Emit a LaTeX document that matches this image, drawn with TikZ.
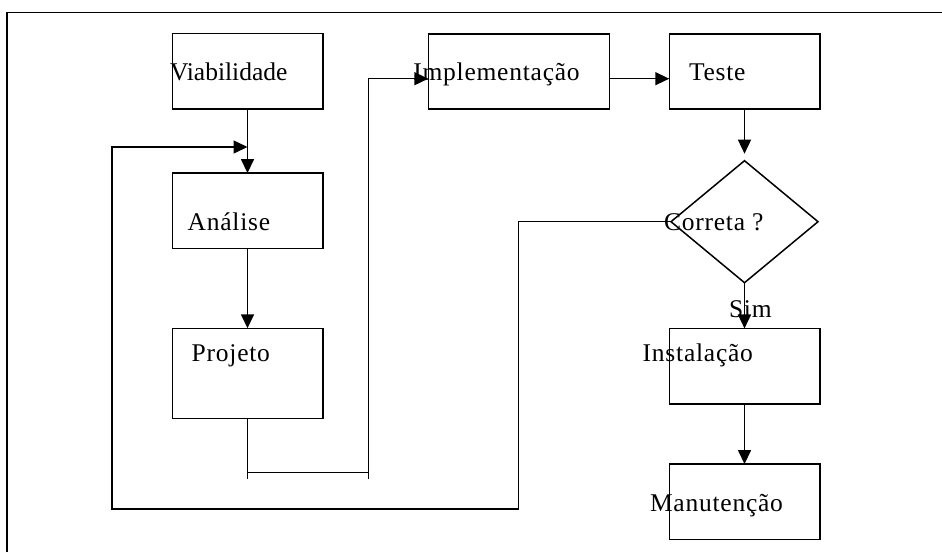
\documentclass[tikz,border=0pt]{standalone}
\usepackage{fontspec}
\setmainfont{Liberation Serif}[LetterSpace=3]
\usetikzlibrary{arrows.meta,shapes.geometric}
\begin{document}
\begin{tikzpicture}[x=1pt,y=-1pt,
  box/.style={draw, line width=1.5pt, minimum width=150.5pt, minimum height=75.5pt, inner sep=0pt, outer sep=0pt},
  txt/.style={anchor=base west, inner sep=0pt, outer sep=0pt, font=\fontsize{25.5}{30}\selectfont},
  conn/.style={line width=1.5pt},
  arr/.style={conn, -{Triangle[length=14pt,width=13pt]}}]
\useasboundingbox (0,0) rectangle (942,552);
\draw[line width=1.6pt] (6.7,552) |- (942,12.3);

% boxes
\node[box] (via) at (247.5,71) {};
\node[box] (ana) at (247.5,210.8) {};
\node[box, minimum height=90.4pt] (proj) at (247.5,373.5) {};
\node[box, minimum width=181pt, minimum height=75pt] (impl) at (518.8,71.5) {};
\node[box, minimum height=75pt] (teste) at (744.5,71.5) {};
\node[draw, diamond, line width=1.5pt, minimum width=147pt, minimum height=122pt, inner sep=0pt, outer sep=0pt] (dia) at (744.5,221.7) {};
\node[box] (inst) at (744.5,366.2) {};
\node[box] (man) at (744.5,501.8) {};

% texts
\node[txt] (tvia) at (170,80.7) {\addfontfeatures{LetterSpace=0}Viabilidade};
\node[txt] (tana) at (187.7,230) {Análise};
\node[txt] (tproj) at (191.7,361.7) {Projeto};
\node[txt] (timpl) at (413.3,80.7) {Implementação};
\node[txt] (tteste) at (689,80.7) {Teste};
\node[txt] (tdia) at (664,230) {Correta ?};
\node[txt] (tsim) at (729,317.7) {Sim};
\node[txt] (tinst) at (642.7,361.7) {Instalação};
\node[txt] (tman) at (650,511.7) {Manutenção};

% coordinates
\coordinate (fb1) at (518.5,509);
\coordinate (fb2) at (112,147);
\coordinate (fbend) at (247.5,147);
\coordinate (pj1) at (247.5,472.3);
\coordinate (pj2) at (368.3,472.3);
\coordinate (pjt1) at (247.5,479);
\coordinate (pjt2) at (368.3,479);

% connectors
\draw[arr] (via.south) -- (ana.north);
\draw[arr] (ana.south) -- (proj.north);
\draw[conn] (proj.south) -- (pjt1);
\draw[conn] (pj1) -- (pj2);
\draw[arr] (pjt2) |- ([yshift=-7.2pt]impl.west);
\draw[arr] ([yshift=-7.2pt]impl.east) -- ([yshift=-7.2pt]teste.west);
\draw[arr, shorten >=7pt] (teste.south) -- (dia.north);
\draw[arr] (dia.south) -- (inst.north);
\draw[arr] (inst.south) -- (man.north);
\draw[arr] (dia.west) -| (fb1) -| (fb2) -- (fbend);
\end{tikzpicture}
\end{document}
